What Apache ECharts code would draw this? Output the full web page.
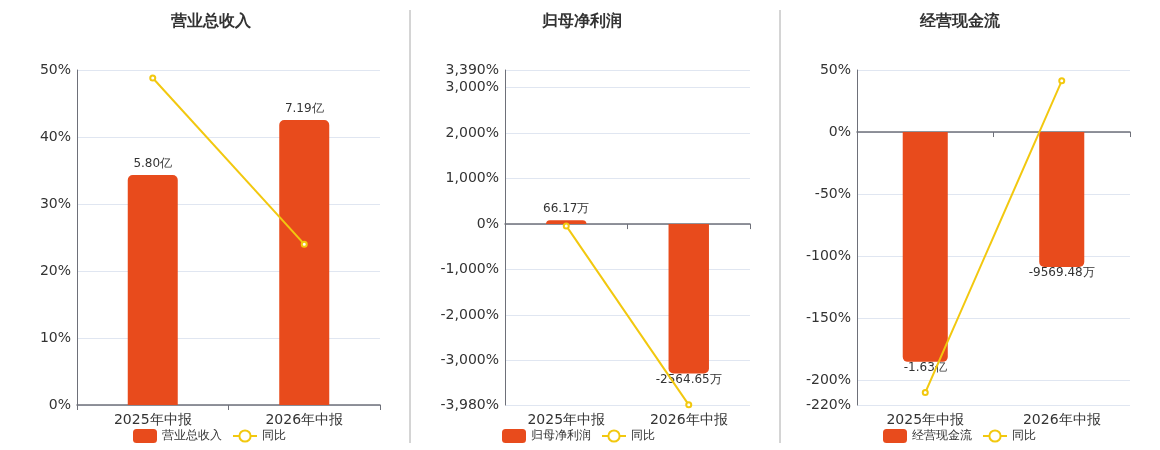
<!DOCTYPE html>
<html>
<head>
<meta charset="utf-8">
<script src="https://cdn.jsdelivr.net/npm/echarts@6/dist/echarts.min.js"></script>
<style>
  html, body { margin: 0; padding: 0; background: #fff; }
  #main { width: 1160px; height: 450px; }
</style>
</head>
<body>
<div id="main"></div>
<script>
// 报告期
var categories = ['2025年中报', '2026年中报'];
// 面板标题 / 柱状系列名
var panelTitles = ['营业总收入', '归母净利润', '经营现金流'];
// 柱状数据, 单位: 万元
var revenueValues = [58000, 71900];
var profitValues = [66.17, -2564.65];
var cashflowValues = [-16300, -9569.48];
// 同比, 单位: %
var revenueYoy = [48.8, 24.0];
var profitYoy = [-40, -3976];
var cashflowYoy = [-210, 41.3];
// 百分比轴范围 [min, max]
var revenuePctRange = [0, 50];
var profitPctRange = [-3980, 3390];
var cashflowPctRange = [-220, 50];
// 隐藏的金额轴范围 [min, max], 与百分比轴零点对齐
var revenueAmtRange = [0, 84500];
var profitAmtRange = [-3105, 2644];
var cashflowAmtRange = [-19360, 4400];

var barColor = '#E84B1C';
var lineColor = '#F2C80F';

function fmtAmount(v) {
    if (Math.abs(v) >= 10000) return (v / 10000).toFixed(2) + '亿';
    return v.toFixed(2) + '万';
}
function fmtPct(v) {
    return Number(v).toLocaleString('en-US') + '%';
}

var panels = [
    {bars: revenueValues, yoy: revenueYoy, pct: revenuePctRange, amt: revenueAmtRange,
     grid: {left: 77, right: 780, top: 70, bottom: 45}, titleLeft: 166, legendLeft: 128},
    {bars: profitValues, yoy: profitYoy, pct: profitPctRange, amt: profitAmtRange,
     grid: {left: 505, right: 410, top: 70, bottom: 45}, titleLeft: 537, legendLeft: 497},
    {bars: cashflowValues, yoy: cashflowYoy, pct: cashflowPctRange, amt: cashflowAmtRange,
     grid: {left: 857, right: 30, top: 70, bottom: 45}, titleLeft: 915, legendLeft: 878}
];

var option = {
    animation: false,
    textStyle: {fontFamily: 'DejaVu Sans, sans-serif'},
    title: [], legend: [], grid: [], xAxis: [], yAxis: [], series: [],
    graphic: [
        {type: 'line', shape: {x1: 410, y1: 10, x2: 410, y2: 443}, style: {stroke: '#aaa', lineWidth: 1}},
        {type: 'line', shape: {x1: 780, y1: 10, x2: 780, y2: 443}, style: {stroke: '#aaa', lineWidth: 1}}
    ]
};

panels.forEach(function (p, i) {
    option.title.push({
        text: panelTitles[i], left: p.titleLeft, top: 9,
        textStyle: {fontSize: 16, fontWeight: 'bold', color: '#333'}
    });
    option.legend.push({
        data: [panelTitles[i], '同比'], left: p.legendLeft, top: 424,
        itemWidth: 24, itemHeight: 14, itemGap: 10,
        textStyle: {fontSize: 12, color: '#333'}
    });
    option.grid.push(p.grid);
    // 零线 + 刻度
    option.xAxis.push({
        type: 'category', gridIndex: i, data: categories,
        axisLine: {onZero: true, lineStyle: {color: '#6E7079', width: 1.5}},
        axisTick: {show: true, lineStyle: {color: '#6E7079'}},
        axisLabel: {show: false}
    });
    // 底部标签
    option.xAxis.push({
        type: 'category', gridIndex: i, data: categories, position: 'bottom',
        axisLine: {show: false, onZero: false}, axisTick: {show: false},
        axisLabel: {fontSize: 14, color: '#333', margin: 8}
    });
    option.yAxis.push({
        type: 'value', gridIndex: i, min: p.pct[0], max: p.pct[1],
        axisLine: {show: true, lineStyle: {color: '#6E7079'}},
        axisTick: {show: false},
        axisLabel: {fontSize: 14, color: '#333', margin: 6, formatter: fmtPct},
        splitLine: {lineStyle: {color: '#E0E6F1'}}
    });
    option.yAxis.push({
        type: 'value', gridIndex: i, min: p.amt[0], max: p.amt[1], show: false,
        splitLine: {show: false}
    });
    option.series.push({
        name: panelTitles[i], type: 'bar', xAxisIndex: i * 2, yAxisIndex: i * 2 + 1,
        barWidth: '33%',
        itemStyle: {color: barColor},
        data: p.bars.map(function (v) {
            return {
                value: v,
                itemStyle: {borderRadius: v >= 0 ? [5, 5, 0, 0] : [0, 0, 5, 5]},
                label: {position: v >= 0 ? 'top' : 'bottom', distance: v >= 0 ? 5 : 0}
            };
        }),
        label: {
            show: true, fontSize: 12, color: '#333',
            formatter: function (params) { return fmtAmount(params.value); }
        }
    });
    option.series.push({
        name: '同比', type: 'line', xAxisIndex: i * 2, yAxisIndex: i * 2,
        data: p.yoy,
        symbol: 'emptyCircle', symbolSize: 5,
        lineStyle: {color: lineColor, width: 2},
        itemStyle: {color: lineColor}
    });
});

var myChart = echarts.init(document.getElementById('main'));
myChart.setOption(option);
window.addEventListener('resize', function () {
    myChart.resize();
});
</script>
</body>
</html>
